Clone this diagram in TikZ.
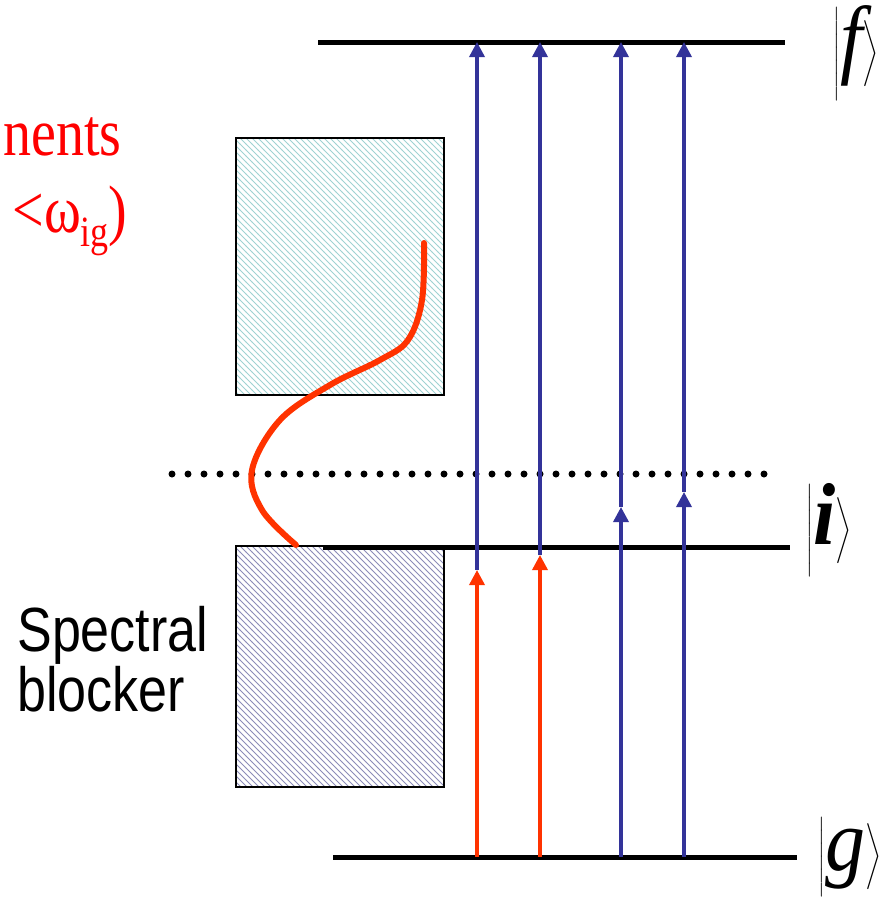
\documentclass[tikz,border=0pt]{standalone}
\usepackage{fontspec}
\setmainfont{Liberation Serif}
\setsansfont{Liberation Sans}
\usepackage{graphicx}
\usetikzlibrary{arrows.meta,patterns}
\definecolor{bl}{HTML}{333399}
\definecolor{rd}{HTML}{FF3300}
\definecolor{cy}{HTML}{9FD2D2}
\definecolor{hb}{HTML}{8C8CB8}
\newcommand{\ketsym}[1]{\scalebox{1}[1.1]{$\left|\rule[-12pt]{0pt}{30pt}#1\right\rangle$}}

\begin{document}
\begin{tikzpicture}[x=0.5pt,y=-0.5pt,
  lv/.style={line width=2.5pt},
  bx/.style={draw=black,line width=1pt},
  ub/.style={-{Triangle[length=7.5pt,width=7.5pt]},line width=1.7pt,draw=bl,fill=bl},
  rb/.style={-{Triangle[length=7.5pt,width=7.5pt]},line width=1.7pt,draw=rd,fill=rd},
  kt/.style={inner sep=0pt,font=\fontsize{40}{44}\selectfont},
  rt/.style={anchor=base east,inner sep=0pt,text=red,font=\fontsize{28}{32}\selectfont}]
\clip (0,0) rectangle (891,906);
% spectral blockers
\draw[bx,pattern=north west lines,pattern color=cy](236,138) rectangle (444,395);
\draw[bx,pattern=north west lines,pattern color=hb](236,546) rectangle (444,787);
% levels
\coordinate (fL) at (318,42); \coordinate (fR) at (785,42);
\coordinate (iL) at (323,547); \coordinate (iR) at (790,547);
\coordinate (gL) at (333,857); \coordinate (gR) at (797,857);
\coordinate (dL) at (172,474); \coordinate (dR) at (768,474);
\draw[lv](fL)--(fR);
\draw[lv](iL)--(iR);
\draw[lv](gL)--(gR);
\draw[line width=3.5pt,line cap=round,dash pattern=on 0pt off 8pt](dL)--(dR);
% transitions
\foreach \n/\x/\y in {a/477/570,b/540/555,c/621/507,d/684/492}{
  \coordinate (f\n) at (\x,42);
  \coordinate (m\n) at (\x,\y);
  \coordinate (g\n) at (\x,857);
}
\foreach \n in {a,b}{\draw[rb](g\n)--(m\n); \draw[ub](m\n)--(f\n);}
\foreach \n in {c,d}{\draw[ub](g\n)--(m\n); \draw[ub](m\n)--(f\n);}
% spectrum
\draw[rd,line width=3pt,line cap=round] plot[smooth,tension=0.6] coordinates
  {(424,243) (422,300) (408,340) (380,360) (330,385) (280,420) (252,470) (262,510) (296,545)};
% kets
\node[kt](kf) at (856,53) {\ketsym{\textit{f}}};
\node[kt](ki) at (829,530) {\ketsym{\textbf{\textit{i}}}};
\node[kt](kg) at (850,857) {\ketsym{\textit{g}}};
% labels
\node[rt](t1) at (122,155) {\scalebox{1}[1.2]{nents}};
\node[rt](t2) at (128,232) {\scalebox{1}[1.2]{<ω\raisebox{-6pt}{\fontsize{18}{20}\selectfont ig})}};
\node[anchor=north west,inner sep=0pt,align=left,font=\sffamily\fontsize{26}{25}\selectfont](sb) at (17,606)
  {\scalebox{1}[1.2]{Spectral}\\\scalebox{1}[1.2]{blocker}};
\end{tikzpicture}
\end{document}
